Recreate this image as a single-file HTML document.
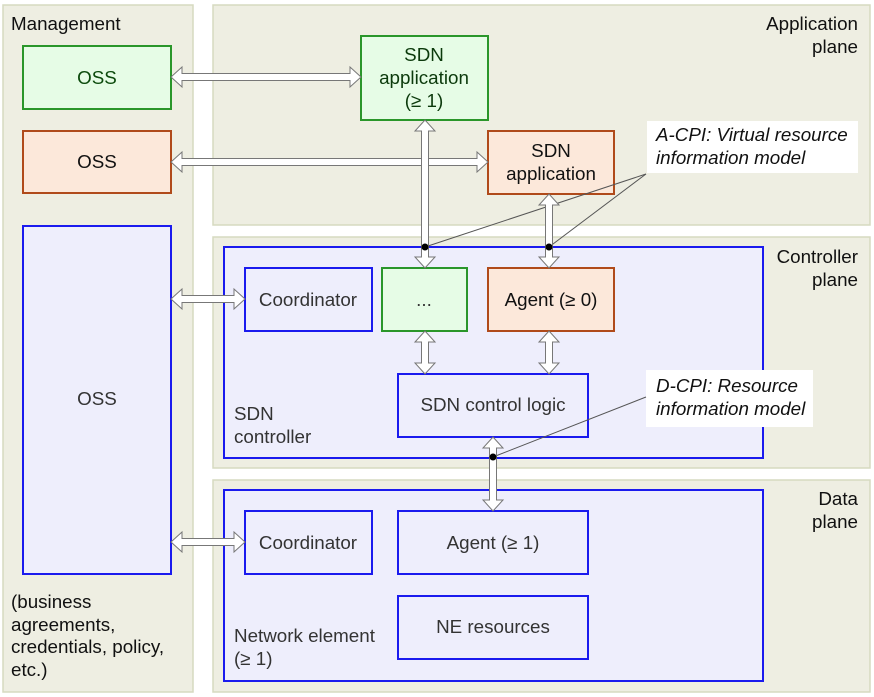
<!DOCTYPE html>
<html><head><meta charset="utf-8"><style>
html,body{margin:0;padding:0;background:#fff;}
svg{display:block;font-family:"Liberation Sans",sans-serif;font-size:18.8px;}
</style></head><body>
<svg width="874" height="697" viewBox="0 0 874 697" xmlns="http://www.w3.org/2000/svg">
<g fill="#eeeee2" stroke="#d6dac0" stroke-width="1.5">
<rect x="3" y="5" width="190" height="687"/>
<rect x="213" y="5" width="657" height="220"/>
<rect x="213" y="237" width="657" height="231"/>
<rect x="213" y="480" width="657" height="212"/>
</g>
<g stroke-width="2">
<rect x="23" y="46" width="148" height="63" fill="#e6fce6" stroke="#2a962a"/>
<rect x="23" y="131" width="148" height="62" fill="#fce8da" stroke="#b04a1a"/>
<rect x="23" y="226" width="148" height="348" fill="#eeeefc" stroke="#1a1aee"/>
<rect x="361" y="36" width="127" height="84" fill="#e6fce6" stroke="#2a962a"/>
<rect x="488" y="131" width="126" height="63" fill="#fce8da" stroke="#b04a1a"/>
<rect x="224" y="247" width="539" height="211" fill="#eeeefc" stroke="#1a1aee"/>
<rect x="245" y="268" width="127" height="63" fill="#eeeefc" stroke="#1a1aee"/>
<rect x="382" y="268" width="85" height="63" fill="#e6fce6" stroke="#2a962a"/>
<rect x="488" y="268" width="126" height="63" fill="#fce8da" stroke="#b04a1a"/>
<rect x="398" y="374" width="190" height="63" fill="#eeeefc" stroke="#1a1aee"/>
<rect x="224" y="490" width="539" height="191" fill="#eeeefc" stroke="#1a1aee"/>
<rect x="245" y="511" width="127" height="63" fill="#eeeefc" stroke="#1a1aee"/>
<rect x="398" y="511" width="190" height="63" fill="#eeeefc" stroke="#1a1aee"/>
<rect x="398" y="596" width="190" height="63" fill="#eeeefc" stroke="#1a1aee"/>
</g>
<rect x="647" y="121" width="211" height="52" fill="#fff"/>
<rect x="646" y="370" width="167" height="57" fill="#fff"/>
<g stroke="#555" stroke-width="1" fill="none">
<line x1="425" y1="247" x2="646" y2="174"/>
<line x1="549" y1="247" x2="646" y2="174"/>
<line x1="493" y1="457" x2="646" y2="397"/>
</g>
<g fill="#fff" stroke="#777" stroke-width="1">
<polygon points="171,77 182,67 182,73.5 350,73.5 350,67 361,77 350,87 350,80.5 182,80.5 182,87"/>
<polygon points="171,162 182,152 182,158.5 477,158.5 477,152 488,162 477,172 477,165.5 182,165.5 182,172"/>
<polygon points="171,299 182,289 182,295.5 234,295.5 234,289 245,299 234,309 234,302.5 182,302.5 182,309"/>
<polygon points="171,542 182,532 182,538.5 234,538.5 234,532 245,542 234,552 234,545.5 182,545.5 182,552"/>
<polygon points="425,120 435,131 428.5,131 428.5,257 435,257 425,268 415,257 421.5,257 421.5,131 415,131"/>
<polygon points="549,194 559,205 552.5,205 552.5,257 559,257 549,268 539,257 545.5,257 545.5,205 539,205"/>
<polygon points="425,331 435,342 428.5,342 428.5,363 435,363 425,374 415,363 421.5,363 421.5,342 415,342"/>
<polygon points="549,331 559,342 552.5,342 552.5,363 559,363 549,374 539,363 545.5,363 545.5,342 539,342"/>
<polygon points="493,437 503,448 496.5,448 496.5,500 503,500 493,511 483,500 489.5,500 489.5,448 483,448"/>
</g>
<g fill="#000">
<circle cx="425" cy="247" r="3.5"/><circle cx="549" cy="247" r="3.5"/><circle cx="493" cy="457" r="3.5"/>
</g>
<g fill="#111">
<text x="11" y="30">Management</text>
<text x="858" y="30" text-anchor="end">Application</text>
<text x="858" y="53" text-anchor="end">plane</text>
<text x="858" y="263" text-anchor="end">Controller</text>
<text x="858" y="286" text-anchor="end">plane</text>
<text x="858" y="505" text-anchor="end">Data</text>
<text x="858" y="528" text-anchor="end">plane</text>
<text x="97" y="84" text-anchor="middle" fill="#0c4a0c">OSS</text>
<text x="97" y="168" text-anchor="middle">OSS</text>
<text x="97" y="405" text-anchor="middle" fill="#333">OSS</text>
<text x="424" y="61" text-anchor="middle" fill="#0c3a0c">SDN</text>
<text x="424" y="84" text-anchor="middle" fill="#0c3a0c">application</text>
<text x="424" y="107" text-anchor="middle" fill="#0c3a0c">(≥ 1)</text>
<text x="551" y="157" text-anchor="middle">SDN</text>
<text x="551" y="180" text-anchor="middle">application</text>
<text x="308" y="306" text-anchor="middle" fill="#333">Coordinator</text>
<text x="424" y="306" text-anchor="middle" fill="#333">...</text>
<text x="551" y="306" text-anchor="middle">Agent (≥ 0)</text>
<text x="493" y="411" text-anchor="middle" fill="#333">SDN control logic</text>
<text x="234" y="420" fill="#333">SDN</text>
<text x="234" y="443" fill="#333">controller</text>
<text x="308" y="549" text-anchor="middle" fill="#333">Coordinator</text>
<text x="493" y="549" text-anchor="middle" fill="#333">Agent (≥ 1)</text>
<text x="493" y="633" text-anchor="middle" fill="#333">NE resources</text>
<text x="234" y="642" fill="#333">Network element</text>
<text x="234" y="665" fill="#333">(≥ 1)</text>
<text x="11" y="608">(business</text>
<text x="11" y="631">agreements,</text>
<text x="11" y="653">credentials, policy,</text>
<text x="11" y="676">etc.)</text>
<g font-style="italic">
<text x="656" y="141">A-CPI: Virtual resource</text>
<text x="656" y="164">information model</text>
<text x="656" y="392">D-CPI: Resource</text>
<text x="656" y="415">information model</text>
</g>
</g>
</svg>
</body></html>
